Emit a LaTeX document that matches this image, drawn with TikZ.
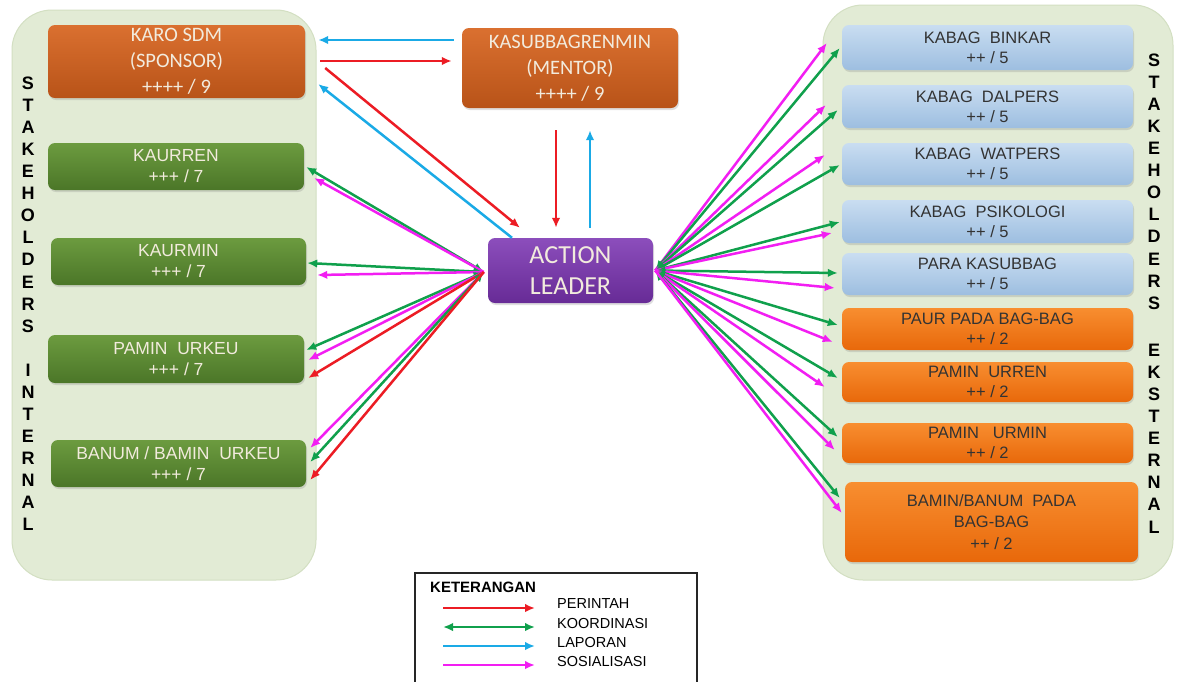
\documentclass[tikz,border=0pt]{standalone}
\usepackage{fontspec}
\setmainfont{Liberation Sans}
\newfontfamily\calib{Carlito}
\usetikzlibrary{arrows.meta,calc,shadows}
\definecolor{panelc}{HTML}{E2EBD5}
\definecolor{panelb}{HTML}{D3DFC2}
\definecolor{orT}{HTML}{DA7030}
\definecolor{orB}{HTML}{B85318}
\definecolor{grT}{HTML}{6C9B3F}
\definecolor{grB}{HTML}{4B7628}
\definecolor{blT}{HTML}{C9DDF1}
\definecolor{blB}{HTML}{9DBEE0}
\definecolor{roT}{HTML}{F88E30}
\definecolor{roB}{HTML}{E8680A}
\definecolor{puT}{HTML}{8C4EBC}
\definecolor{puB}{HTML}{672B96}
\definecolor{cred}{HTML}{EC1C24}
\definecolor{cgreen}{HTML}{10A04C}
\definecolor{cblue}{HTML}{1AAAE6}
\definecolor{cmag}{HTML}{F21EF2}
\definecolor{lighttxt}{HTML}{F2EBDD}
\definecolor{darktxt}{HTML}{333333}
\begin{document}
\begin{tikzpicture}[x=1pt,y=-1pt,
  panel/.style={rounded corners=40pt, fill=panelc, draw=panelb, line width=1pt, inner sep=0pt},
  basebox/.style={rounded corners=7pt, inner sep=0pt, align=center,
     drop shadow={opacity=0.25, shadow xshift=1pt, shadow yshift=-2pt}},
  orbox/.style={basebox, top color=orT, bottom color=orB, text=lighttxt,
     font=\calib\fontsize{20.5}{26}\selectfont},
  gbox/.style={basebox, top color=grT, bottom color=grB, text=lighttxt,
     minimum width=256pt, minimum height=47pt, font=\fontsize{17.5}{21}\selectfont},
  bbox/.style={basebox, top color=blT, bottom color=blB, text=darktxt,
     minimum width=291pt, font=\fontsize{16.5}{20}\selectfont},
  obox/.style={basebox, top color=roT, bottom color=roB, text=darktxt,
     minimum width=291pt, font=\fontsize{16.5}{20.5}\selectfont},
  abox/.style={basebox, top color=puT, bottom color=puB, text=lighttxt,
     minimum width=165pt, minimum height=65pt, font=\calib\fontsize{26}{31}\selectfont},
  vlet/.style={inner sep=0pt, font=\bfseries\fontsize{18}{18}\selectfont, text=black},
  arr/.style={line width=2.5pt},
  perintah/.style={arr, draw=cred, -{Latex[length=10pt,width=8.5pt]}},
  lapor/.style={arr, draw=cblue, -{Latex[length=10pt,width=8.5pt]}},
  koord/.style={arr, draw=cgreen, {Latex[length=10pt,width=8.5pt]}-{Latex[length=10pt,width=8.5pt]}},
  sosial/.style={arr, draw=cmag, -{Latex[length=10pt,width=8.5pt]}},
  legtxt/.style={inner sep=0pt, anchor=west, font=\fontsize{14.5}{15}\selectfont, text=black}
]
\fill[white] (0,0) rectangle (1179,681);
\useasboundingbox (0,0) rectangle (1179,681);

% panels
\node[panel, minimum width=304pt, minimum height=570pt] (panelL) at (164,295) {};
\node[panel, minimum width=350pt, minimum height=575pt] (panelR) at (998,292.5) {};

% vertical texts
\foreach \l [count=\i] in {S,T,A,K,E,H,O,L,D,E,R,S}
  \node[vlet] (la\i) at (28,{83+(\i-1)*22.1}) {\l};
\foreach \l [count=\i] in {I,N,T,E,R,N,A,L}
  \node[vlet] (lb\i) at (28,{370+(\i-1)*22.1}) {\l};
\foreach \l [count=\i] in {S,T,A,K,E,H,O,L,D,E,R,S}
  \node[vlet] (ra\i) at (1154,{60+(\i-1)*22.1}) {\l};
\foreach \l [count=\i] in {E,K,S,T,E,R,N,A,L}
  \node[vlet] (rb\i) at (1154,{350+(\i-1)*22.1}) {\l};

% left boxes
\node[orbox, minimum width=257pt, minimum height=73pt] (karo) at (176.5,61.5) {KARO SDM\\(SPONSOR)\\++++ / 9};
\node[gbox] (kaurren) at (176,166.5) {KAURREN\\+++ / 7};
\node[gbox, minimum width=255pt] (kaurmin) at (178.5,261.5) {KAURMIN\\+++ / 7};
\node[gbox, minimum height=48pt] (paminurkeu) at (176,359) {PAMIN~~URKEU\\+++ / 7};
\node[gbox, minimum width=255pt] (banum) at (178.5,463.5) {BANUM / BAMIN~~URKEU\\+++ / 7};

% centre boxes
\node[orbox, minimum width=216pt, minimum height=80pt] (kasubb) at (570,68) {KASUBBAGRENMIN\\(MENTOR)\\++++ / 9};
\node[abox] (al) at (570.5,270.5) {ACTION\\LEADER};

% right boxes
\node[bbox, minimum height=45pt] (binkar) at (987.5,47.5) {KABAG~~BINKAR\\++ / 5};
\node[bbox, minimum height=43pt] (dalpers) at (987.5,106.5) {KABAG~~DALPERS\\++ / 5};
\node[bbox, minimum height=42pt] (watpers) at (987.5,164) {KABAG~~WATPERS\\++ / 5};
\node[bbox, minimum height=43pt] (psiko) at (987.5,221.5) {KABAG~~PSIKOLOGI\\++ / 5};
\node[bbox, minimum height=42pt] (para) at (987.5,274) {PARA KASUBBAG\\++ / 5};
\node[obox, minimum height=42pt] (paur) at (987.5,329) {PAUR PADA BAG-BAG\\++ / 2};
\node[obox, minimum height=40pt] (urren) at (987.5,382) {PAMIN~~URREN\\++ / 2};
\node[obox, minimum height=40pt] (urmin) at (987.5,443) {PAMIN~~~URMIN\\++ / 2};
\node[obox, minimum width=293pt, minimum height=80pt, font=\fontsize{16.5}{21.5}\selectfont] (bamin) at (991.5,522) {BAMIN/BANUM~~PADA\\BAG-BAG\\++ / 2};

% top connectors
\draw[lapor] ($(kasubb.west)+(-8,-28)$) -- ($(karo.east)+(13,-21.5)$);
\draw[perintah] ($(karo.east)+(15,-0.5)$) -- ($(kasubb.west)+(-10,-7)$);
\draw[perintah] ($(karo.east)+(20,6.5)$) -- ($(al.north)+(-50.5,-10)$);
\draw[lapor] ($(al.north)+(-58.5,0)$) -- ($(karo.east)+(13,22.5)$);
\draw[perintah] ($(kasubb.south)+(-14,22)$) -- ($(al.north)+(-14.5,-10)$);
\draw[lapor] ($(al.north)+(19.5,-10)$) -- ($(kasubb.south)+(20,22)$);

% left fan
\coordinate (fanL) at ($(al.west)+(-4,1.5)$);
\draw[koord] (fanL) -- ($(kaurren.east)+(2,0.5)$);
\draw[sosial] (fanL) -- ($(kaurren.east)+(10,11.5)$);
\draw[koord] (fanL) -- ($(kaurmin.east)+(1,1.5)$);
\draw[sosial] (fanL) -- ($(kaurmin.east)+(11,13.5)$);
\draw[koord] (fanL) -- ($(paminurkeu.east)+(2,-9)$);
\draw[sosial] (fanL) -- ($(paminurkeu.east)+(4,1)$);
\draw[perintah] (fanL) -- ($(paminurkeu.east)+(4,19)$);
\draw[sosial] (fanL) -- ($(banum.east)+(4,-15.5)$);
\draw[koord] (fanL) -- ($(banum.east)+(4,-1.5)$);
\draw[perintah] (fanL) -- ($(banum.east)+(4,16.5)$);

% right fan
\coordinate (fanR) at ($(al.east)+(2,0)$);
\draw[sosial] (fanR) -- ($(binkar.west)+(-15,-4.5)$);
\draw[koord] (fanR) -- ($(binkar.west)+(-2,0.5)$);
\draw[sosial] (fanR) -- ($(dalpers.west)+(-16,-1.5)$);
\draw[koord] (fanR) -- ($(dalpers.west)+(-4,3.5)$);
\draw[sosial] (fanR) -- ($(watpers.west)+(-17,-9)$);
\draw[koord] (fanR) -- ($(watpers.west)+(-2,1)$);
\draw[koord] (fanR) -- ($(psiko.west)+(-2,0.5)$);
\draw[sosial] (fanR) -- ($(psiko.west)+(-10,11.5)$);
\draw[koord] (fanR) -- ($(para.west)+(-4,-1)$);
\draw[sosial] (fanR) -- ($(para.west)+(-7,14)$);
\draw[koord] (fanR) -- ($(paur.west)+(-4,-4)$);
\draw[sosial] (fanR) -- ($(paur.west)+(-9,13)$);
\draw[koord] (fanR) -- ($(urren.west)+(-4,-4)$);
\draw[sosial] (fanR) -- ($(urren.west)+(-17,5)$);
\draw[koord] (fanR) -- ($(urmin.west)+(-4,-6)$);
\draw[sosial] (fanR) -- ($(urmin.west)+(-7,7)$);
\draw[koord] (fanR) -- ($(bamin.west)+(-5,-24)$);
\draw[sosial] (fanR) -- ($(bamin.west)+(-3,-9)$);

% legend
\node[draw=black!85, line width=1.3pt, minimum width=282pt, minimum height=127pt, inner sep=0pt] (legend) at (556,636.5) {};
\node[inner sep=0pt, anchor=west, font=\bfseries\fontsize{15}{15}\selectfont] (ket) at (430,587) {KETERANGAN};
\coordinate (r1) at (443,608); \coordinate (r2) at (535,608);
\coordinate (g1) at (443,627); \coordinate (g2) at (535,627);
\coordinate (b1) at (443,646); \coordinate (b2) at (535,646);
\coordinate (m1) at (443,665); \coordinate (m2) at (535,665);
\draw[perintah] (r1) -- (r2);
\draw[koord] (g1) -- (g2);
\draw[lapor] (b1) -- (b2);
\draw[sosial] (m1) -- (m2);
\node[legtxt] (t1) at (557,604) {PERINTAH};
\node[legtxt] (t2) at (557,623) {KOORDINASI};
\node[legtxt] (t3) at (557,642) {LAPORAN};
\node[legtxt] (t4) at (557,661) {SOSIALISASI};
\end{tikzpicture}
\end{document}
